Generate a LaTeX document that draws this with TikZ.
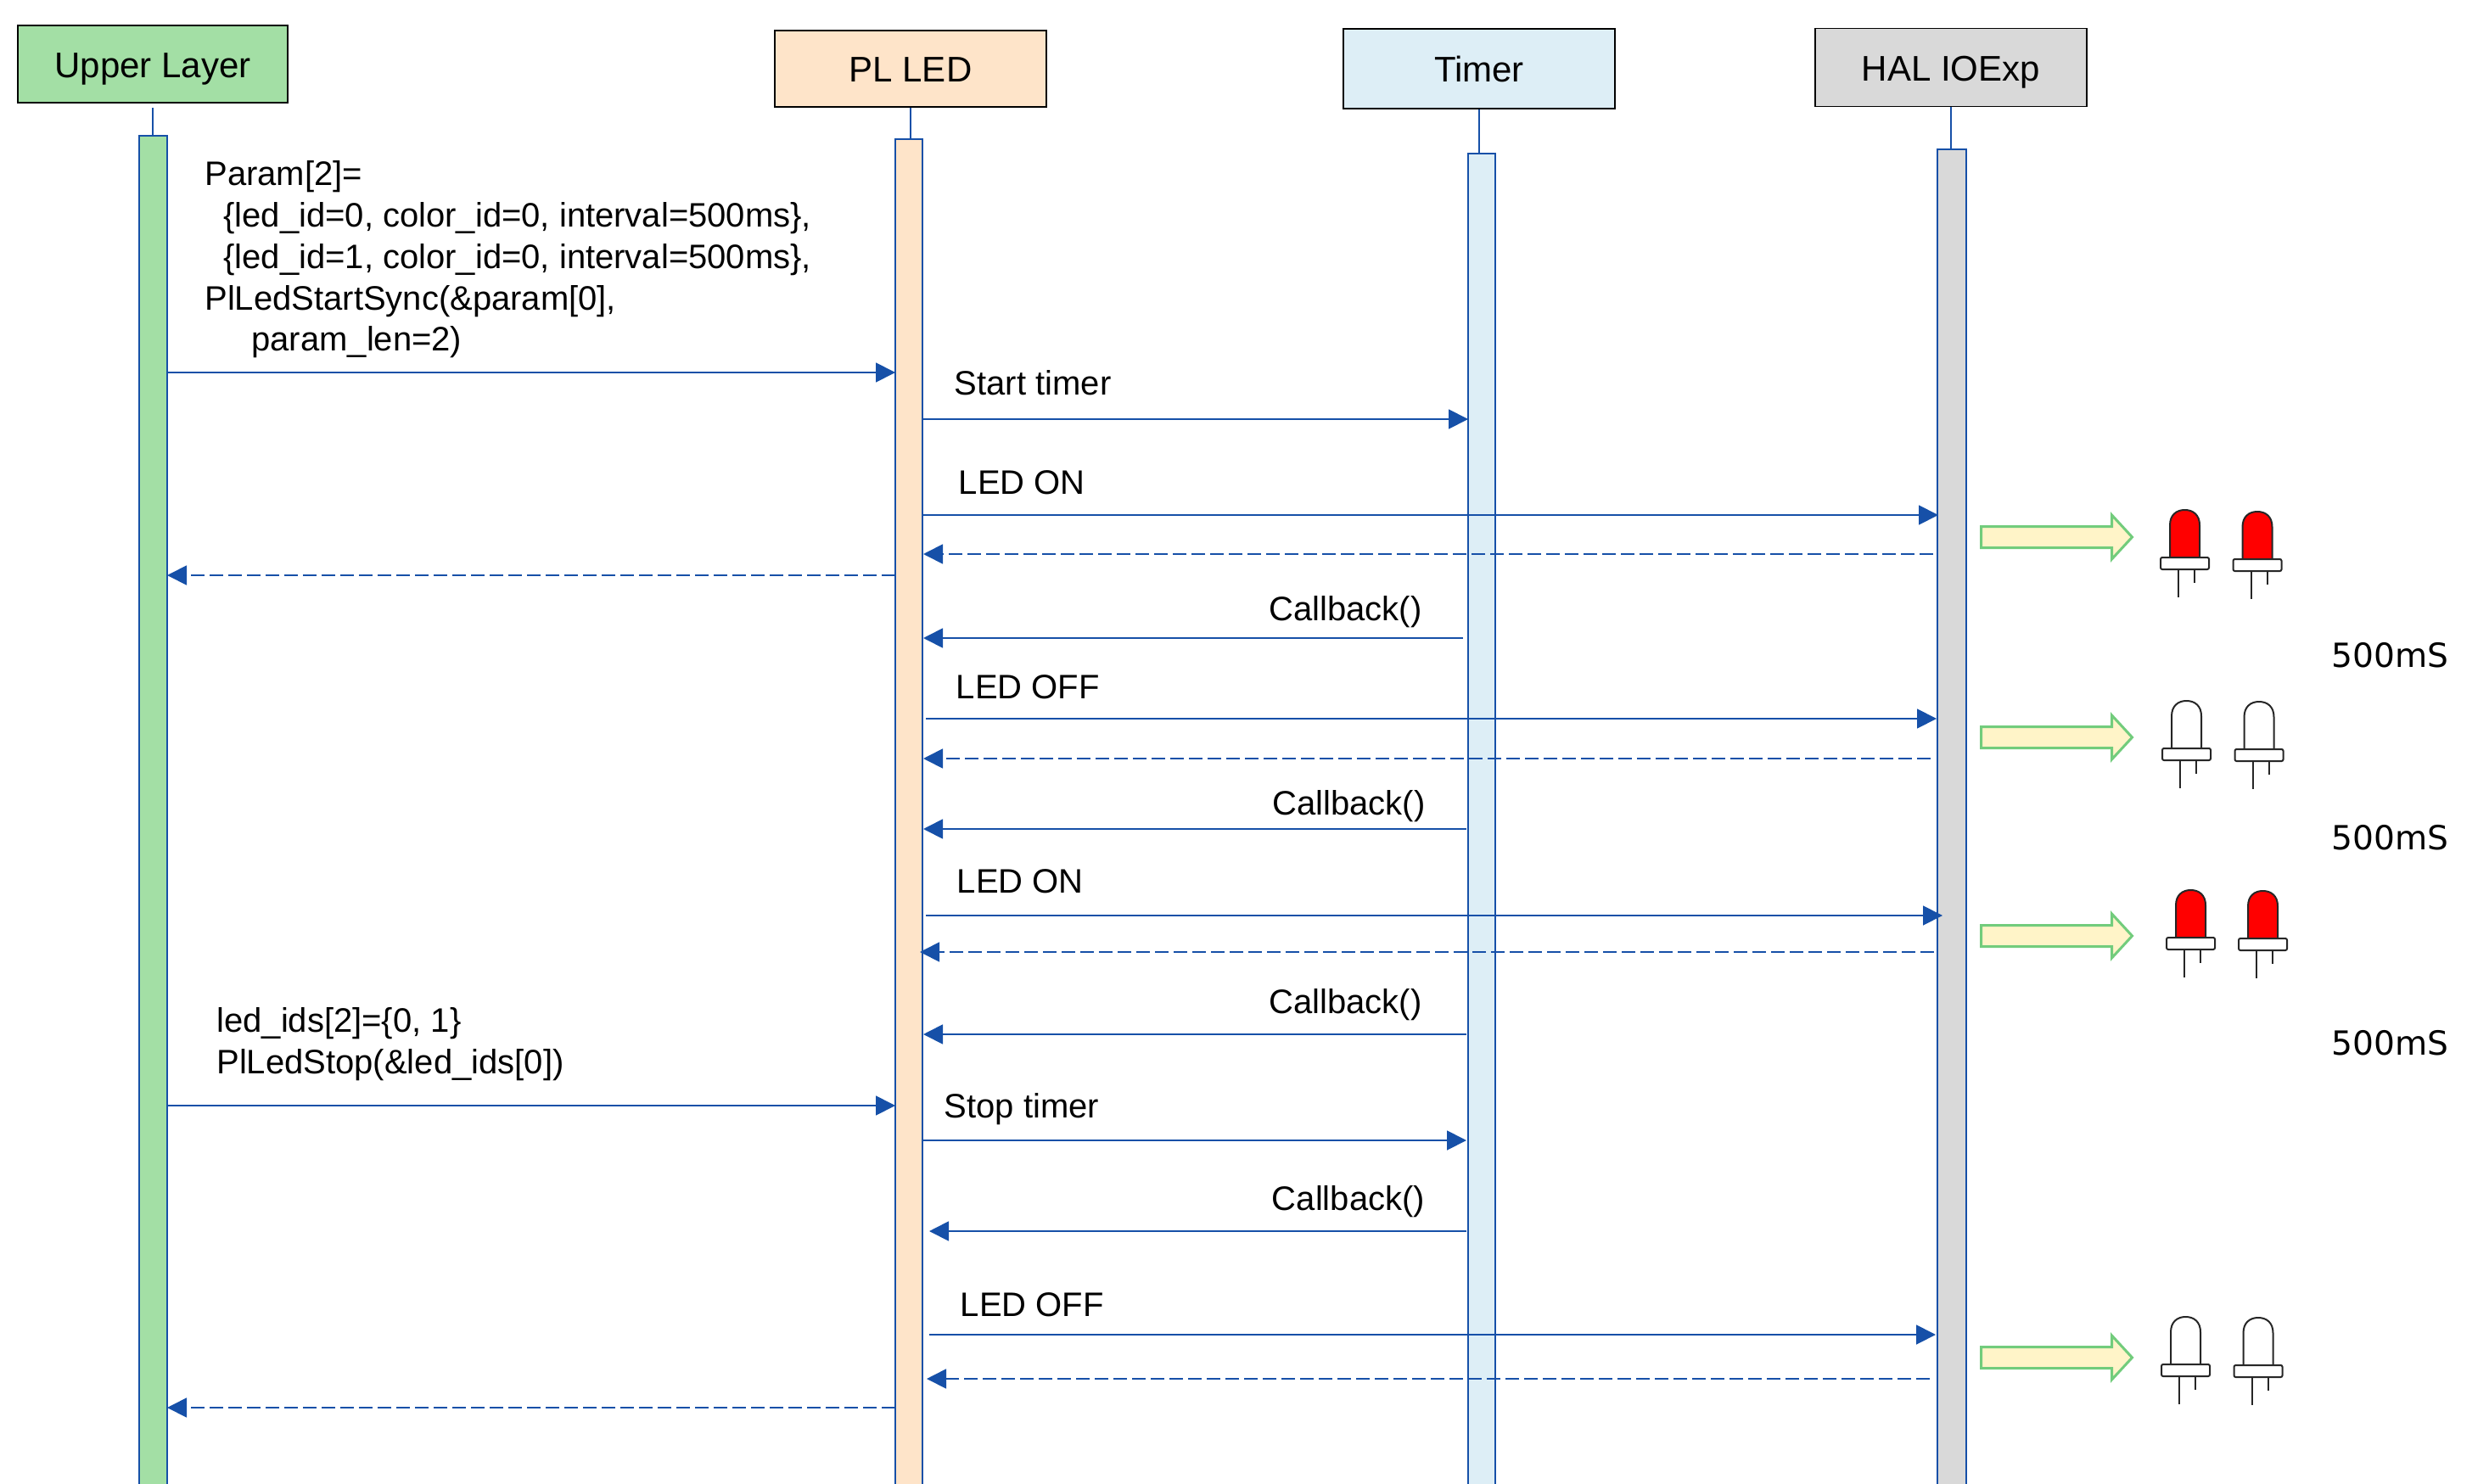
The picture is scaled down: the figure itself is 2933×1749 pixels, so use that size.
\documentclass[tikz,border=0pt]{standalone}
\usepackage{fontspec}
\setmainfont{Liberation Sans}
\newfontfamily\pausefont{DejaVu Sans}
\usetikzlibrary{arrows.meta}
\definecolor{seqblue}{HTML}{1650A8}
\definecolor{upperfill}{HTML}{A3DFA5}
\definecolor{plledfill}{HTML}{FEE4C9}
\definecolor{timerfill}{HTML}{DDEEF6}
\definecolor{halfill}{HTML}{D9D9D9}
\definecolor{hintfill}{HTML}{FFF4C8}
\definecolor{hintline}{HTML}{72CC7C}
\definecolor{ledline}{HTML}{262626}

\begin{document}
\begin{tikzpicture}[
    x=0.5pt,y=-0.5pt,
    lane/.style={draw=black, line width=0.9pt, minimum width=160pt, minimum height=46pt,
      inner sep=0pt, text height=16pt, text depth=0pt, font=\fontsize{21}{25}\selectfont},
    bar/.style={draw=seqblue, line width=0.9pt, minimum width=16.5pt, minimum height=900pt,
      inner sep=0pt, anchor=north},
    lifeline/.style={seqblue, line width=0.6pt},
    call/.style={seqblue, line width=0.9pt, -{Triangle[length=11.5pt,width=11.5pt]}},
    back/.style={call, dash pattern=on 8pt off 3pt},
    txt/.style={inner sep=0pt, anchor=base west, font=\fontsize{20}{24.4}\selectfont},
    pause/.style={txt, font=\pausefont\fontsize{19.6}{24}\selectfont},
    pics/hint/.style={code={
      \draw[hintline, fill=hintfill, line width=1.5pt]
        (0,-12.5) -- (154,-12.5) -- (154,-26) -- (178,0) -- (154,26) -- (154,12.5) -- (0,12.5) -- cycle;
    }},
    pics/led/.style={code={
      \draw[ledline, fill=#1, line width=1pt] (-17.5,0) -- (-17.5,-38)
        .. controls (-17.5,-50) and (-10,-56) .. (0,-56)
        .. controls (10,-56) and (17.5,-50) .. (17.5,-38) -- (17.5,0);
      \draw[ledline, fill=white, line width=1pt, rounded corners=1pt] (-28.5,0) rectangle (28.5,14);
      \draw[ledline, line width=1pt] (-7.5,14) -- (-7.5,47);
      \draw[ledline, line width=1pt] (11.5,14) -- (11.5,30);
    }}
    ]
  \useasboundingbox (0,0) rectangle (2933,1749);

  % lanes
  \node[lane, fill=upperfill, minimum width=159pt, minimum height=45.5pt] (upperBox) at (180,75.5) {Upper Layer};
  \node[lane, fill=plledfill, minimum height=45pt] (plledBox) at (1073,81) {PL LED};
  \node[lane, fill=timerfill, minimum height=47pt] (timerBox) at (1743,81) {Timer};
  \node[lane, fill=halfill] (halBox) at (2299,79.5) {HAL IOExp};

  \node[bar, fill=upperfill] (upperBar) at (180.5,159) {};
  \node[bar, fill=plledfill, minimum width=16pt] (plledBar) at (1071,163) {};
  \node[bar, fill=timerfill, minimum width=16pt] (timerBar) at (1746,180) {};
  \node[bar, fill=halfill, minimum width=17pt] (halBar) at (2300,175) {};

  \draw[lifeline, shorten <=2.5pt] (upperBox.south) -- (upperBox.south |- upperBar.north);
  \draw[lifeline] (plledBox.south) -- (plledBox.south |- plledBar.north);
  \draw[lifeline] (timerBox.south) -- (timerBox.south |- timerBar.north);
  \draw[lifeline] (halBox.south) -- (halBox.south |- halBar.north);

  % messages: name/from/to/y/style
  \foreach \msg/\xa/\xb/\yy/\kind in {
      startSync/197/1055/439/call, startTimer/1088/1730/494/call,
      ledOnA/1088/2284/607/call, ledOnBack/2278/1088/653/back,
      startBack/1055/197/678/back, cbA/1724/1088/752/call,
      ledOffA/1091/2282/847/call, ledOffBack/2275/1088/894/back,
      cbB/1728/1088/977/call, ledOnB/1091/2289/1079/call,
      ledOnBBack/2279/1084/1122/back, cbC/1728/1088/1219/call,
      stopSync/197/1055/1303/call, stopTimer/1088/1728/1344/call,
      cbD/1728/1095/1451/call, ledOffB/1095/2281/1573/call,
      ledOffBBack/2274/1092/1625/back, stopBack/1055/197/1659/back} {
    \coordinate (\msg From) at (\xa,\yy);
    \coordinate (\msg To) at (\xb,\yy);
    \draw[\kind] (\msg From) -- (\msg To);
  }

  % labels
  \node[txt, anchor=west, align=left] (paramText) at (241,306) {Param[2]=\\
    \hspace{11pt}\{led\_id=0, color\_id=0, interval=500ms\},\\
    \hspace{11pt}\{led\_id=1, color\_id=0, interval=500ms\},\\
    PlLedStartSync(\&param[0],\\
    \hspace{27.5pt}param\_len=2)};
  \node[txt, anchor=west, align=left] (stopText) at (255,1231) {led\_ids[2]=\{0, 1\}\\
    PlLedStop(\&led\_ids[0])};
  \node[txt] (startLabel) at (1124.5,465.5) {Start timer};
  \node[txt] (onLabelA) at (1129.5,582) {LED ON};
  \node[txt] (cbLabelA) at (1495,731.5) {Callback()};
  \node[txt] (offLabelA) at (1126.5,823.5) {LED OFF};
  \node[txt] (cbLabelB) at (1499,960) {Callback()};
  \node[txt] (onLabelB) at (1127.5,1052) {LED ON};
  \node[txt] (cbLabelC) at (1495,1194) {Callback()};
  \node[txt] (stopLabel) at (1112.5,1317) {Stop timer};
  \node[txt] (cbLabelD) at (1498.5,1426) {Callback()};
  \node[txt] (offLabelB) at (1131.5,1551) {LED OFF};
  \node[pause] (pauseA) at (2747,786) {500mS};
  \node[pause] (pauseB) at (2747,1001) {500mS};
  \node[pause] (pauseC) at (2747,1243) {500mS};

  % hints and leds
  \pic at (2334.5,633) {hint};
  \pic at (2334.5,869) {hint};
  \pic at (2334.5,1103) {hint};
  \pic at (2334.5,1600) {hint};

  \pic at (2574.5,657) {led=red};
  \pic at (2660,659) {led=red};
  \pic at (2576.5,882) {led=white};
  \pic at (2662,883) {led=white};
  \pic at (2581.5,1105) {led=red};
  \pic at (2666.5,1106) {led=red};
  \pic at (2575.5,1608) {led=white};
  \pic at (2661,1609) {led=white};
\end{tikzpicture}
\end{document}
